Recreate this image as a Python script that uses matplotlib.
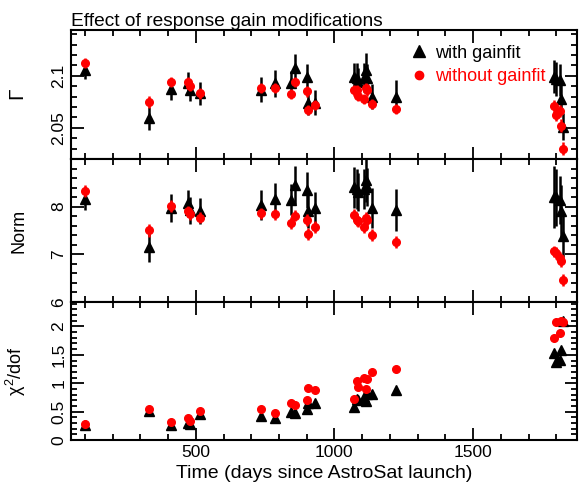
import numpy as np
import matplotlib
matplotlib.use("Agg")
import matplotlib.pyplot as plt
from matplotlib.lines import Line2D
from matplotlib.ticker import MultipleLocator

plt.rcParams['font.family'] = ['Liberation Sans', 'DejaVu Sans']
plt.rcParams['mathtext.fontset'] = 'custom'
plt.rcParams['mathtext.rm'] = 'Liberation Sans'
plt.rcParams['mathtext.it'] = 'Liberation Sans'

# observation times (days since AstroSat launch)
days = [101, 332, 410, 472, 480, 514, 734, 784, 843, 858, 900, 905, 929,
        1071, 1081, 1086, 1105, 1113, 1119, 1134, 1222,
        1792, 1798, 1813, 1818, 1824]

# photon index
gamma_with = [2.106, 2.059, 2.087, 2.093, 2.086, 2.083, 2.0865, 2.093, 2.093, 2.107, 2.099, 2.074, 2.074,
              2.099, 2.098, 2.094, 2.098, 2.106, 2.098, 2.080, 2.080,
              2.099, 2.097, 2.096, 2.0776, 2.051]
gamma_with_err = [0.009, 0.011, 0.010, 0.011, 0.010, 0.011, 0.012, 0.013, 0.012, 0.014, 0.012, 0.012, 0.012,
                  0.013, 0.014, 0.013, 0.014, 0.016, 0.013, 0.012, 0.016,
                  0.016, 0.016, 0.015, 0.014, 0.013]
gamma_without = [2.112, 2.075, 2.094, 2.094, 2.090, 2.083, 2.088, 2.088, 2.0827, 2.094, 2.085, 2.067, 2.072,
                 2.086, 2.086, 2.081, 2.0776, 2.088, 2.086, 2.073, 2.068,
                 2.0705, 2.0625, 2.066, 2.052, 2.030]
gamma_without_err = [0.005, 0.006, 0.005, 0.005, 0.005, 0.005, 0.005, 0.005, 0.005, 0.005, 0.005, 0.005, 0.005,
                     0.005, 0.005, 0.005, 0.005, 0.005, 0.005, 0.005, 0.005,
                     0.006, 0.006, 0.006, 0.006, 0.006]

# normalisation
norm_with = [8.17, 7.15, 7.97, 8.08, 7.92, 7.91, 8.04, 8.17, 8.15, 8.45, 8.35, 7.90, 7.97,
             8.41, 8.38, 8.30, 8.38, 8.55, 8.41, 7.97, 7.93,
             8.21, 8.20, 8.14, 7.90, 7.38]
norm_with_err = [0.24, 0.31, 0.29, 0.28, 0.28, 0.27, 0.31, 0.33, 0.32, 0.40, 0.37, 0.35, 0.33,
                 0.43, 0.42, 0.40, 0.42, 0.45, 0.40, 0.42, 0.45,
                 0.65, 0.60, 0.50, 0.55, 0.43]
norm_without = [8.33, 7.50, 8.01, 7.90, 7.84, 7.77, 7.86, 7.84, 7.66, 7.81, 7.72, 7.43, 7.57,
                7.83, 7.72, 7.69, 7.57, 7.77, 7.72, 7.41, 7.26,
                7.06, 7.03, 6.93, 6.86, 6.46]
norm_without_err = [0.13, 0.13, 0.13, 0.12, 0.12, 0.12, 0.12, 0.12, 0.12, 0.12, 0.12, 0.12, 0.12,
                    0.12, 0.12, 0.12, 0.12, 0.12, 0.12, 0.12, 0.12,
                    0.12, 0.12, 0.12, 0.12, 0.12]

# reduced chi-square
chi_with = [0.26, 0.51, 0.26, 0.30, 0.28, 0.46, 0.42, 0.38, 0.50, 0.47, 0.54, 0.65, 0.66,
            0.58, 0.73, 0.70, 0.76, 0.69, 0.81, 0.81, 0.88,
            1.54, 1.38, 1.41, 1.59, 2.09]
chi_without = [0.28, 0.54, 0.32, 0.38, 0.34, 0.51, 0.55, 0.47, 0.65, 0.62, 0.71, 0.92, 0.88,
               0.72, 1.04, 0.94, 1.10, 0.89, 1.08, 1.19, 1.25,
               1.80, 2.07, 1.88, 2.09, 2.08]

fig = plt.figure(figsize=(5.83, 4.9), dpi=100)
left, width = 0.1218, 0.868
ax1 = fig.add_axes([left, 0.6755, width, 0.2633])
ax2 = fig.add_axes([left, 0.3837, width, 0.2918], sharex=ax1)
ax3 = fig.add_axes([left, 0.102, width, 0.2816], sharex=ax1)

tri = dict(fmt='^', color='black', ms=7.5, elinewidth=1.8, capsize=0, zorder=2)
dot = dict(fmt='o', color='red', ms=5.5, elinewidth=1.8, capsize=0, zorder=3)

ax1.errorbar(days, gamma_with, yerr=gamma_with_err, **tri)
ax1.errorbar(days, gamma_without, yerr=gamma_without_err, **dot)
ax2.errorbar(days, norm_with, yerr=norm_with_err, **tri)
ax2.errorbar(days, norm_without, yerr=norm_without_err, **dot)
ax3.plot(days, chi_with, '^', color='black', ms=7.5, zorder=2)
ax3.plot(days, chi_without, 'o', color='red', ms=5.5, zorder=3)

ax1.set_xlim(50, 1875)
ax1.set_ylim(2.02, 2.144)
ax2.set_ylim(6, 9)
ax3.set_ylim(0, 2.43)

ax1.yaxis.set_major_locator(MultipleLocator(0.05))
ax1.yaxis.set_minor_locator(MultipleLocator(0.01))
ax2.yaxis.set_major_locator(MultipleLocator(1))
ax2.yaxis.set_minor_locator(MultipleLocator(0.2))
ax3.yaxis.set_major_locator(MultipleLocator(0.5))
ax3.yaxis.set_minor_locator(MultipleLocator(0.1))
ax3.xaxis.set_major_locator(MultipleLocator(500))
ax3.xaxis.set_minor_locator(MultipleLocator(100))

for ax in (ax1, ax2, ax3):
    for sp in ax.spines.values():
        sp.set_linewidth(1.5)
    ax.tick_params(which='both', direction='in', top=True, right=True,
                   width=1.3, labelsize=12.5)
    ax.tick_params(which='major', length=9)
    ax.tick_params(which='minor', length=4.5)
ax1.tick_params(labelbottom=False)
ax2.tick_params(labelbottom=False)

ax1.set_yticks([2.05, 2.1], ['2.05', '2.1'], rotation=90, va='center')
ax2.set_yticks([6, 7, 8], ['6', '7', '8'], rotation=90, va='center')
ax3.set_yticks([0, 0.5, 1, 1.5, 2], ['0', '0.5', '1', '1.5', '2'], rotation=90, va='center')

ax1.set_ylabel(r'$\Gamma$', fontsize=15)
ax2.set_ylabel('Norm', fontsize=13)
ax3.set_ylabel(r'$\chi^2$/dof', fontsize=13)
for ax in (ax1, ax2, ax3):
    ax.yaxis.set_label_coords(-0.085, 0.5)
ax3.set_xlabel('Time (days since AstroSat launch)', fontsize=14)
ax1.set_title('Effect of response gain modifications', loc='left', fontsize=13.8, pad=3)

handles = [Line2D([], [], ls='none', marker='^', color='black', ms=8),
           Line2D([], [], ls='none', marker='o', color='red', ms=6)]
ax1.legend(handles, ['with gainfit', 'without gainfit'], loc='upper right',
           bbox_to_anchor=(0.96, 0.97), frameon=False, fontsize=13,
           handletextpad=0.4, borderaxespad=0.2, labelspacing=0.35,
           labelcolor=['black', 'red'], handlelength=1.0)

fig.savefig('out.png', dpi=100)
